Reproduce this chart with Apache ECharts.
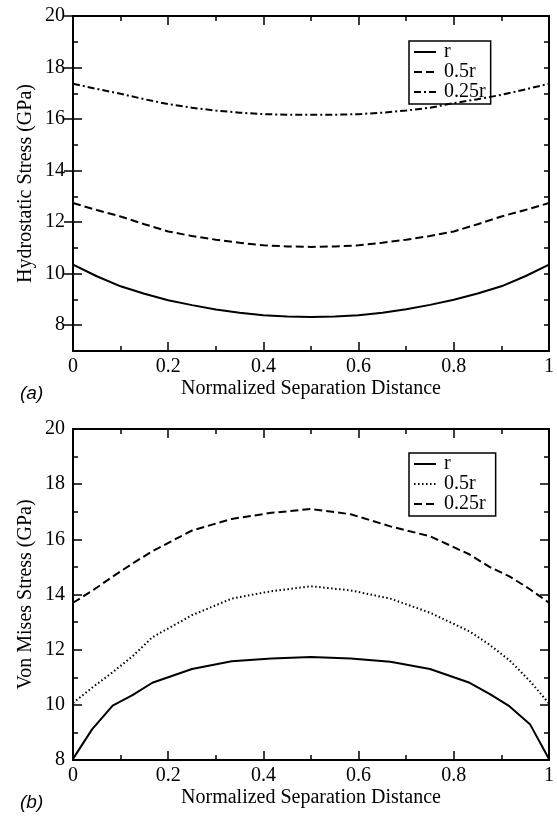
<!DOCTYPE html>
<html>
<head>
<meta charset="utf-8">
<script src="https://cdn.jsdelivr.net/npm/echarts@6/dist/echarts.min.js"></script>
<style>
html,body{margin:0;padding:0;background:#fff;}
#chart{width:557px;height:818px;}
</style>
</head>
<body>
<div id="chart"></div>
<script>
// ---- Data ----
// (a) Hydrostatic stress
const xTop = [0,0.05,0.1,0.15,0.2,0.25,0.3,0.35,0.4,0.45,0.5,0.55,0.6,0.65,0.7,0.75,0.8,0.85,0.9,0.95,1];
const hydroR       = [10.35,9.90,9.51,9.22,8.97,8.78,8.61,8.48,8.39,8.34,8.32,8.34,8.39,8.48,8.62,8.79,8.99,9.23,9.51,9.90,10.35];
const hydroHalf    = [12.74,12.47,12.22,11.92,11.64,11.46,11.32,11.20,11.10,11.06,11.04,11.06,11.10,11.20,11.32,11.46,11.64,11.92,12.22,12.47,12.74];
const hydroQuarter = [17.37,17.17,16.98,16.77,16.58,16.44,16.33,16.25,16.19,16.17,16.17,16.17,16.19,16.25,16.33,16.44,16.62,16.77,16.94,17.15,17.37];
// (b) Von Mises stress
const xBot = [0,0.04,0.0833,0.125,0.1667,0.25,0.3333,0.4167,0.5,0.5833,0.6667,0.75,0.8333,0.875,0.9167,0.96,1];
const vmR       = [8.04,9.11,9.97,10.35,10.80,11.30,11.58,11.68,11.73,11.68,11.56,11.30,10.80,10.40,9.95,9.30,8.04];
const vmHalf    = [10.07,10.62,11.18,11.76,12.45,13.25,13.85,14.12,14.30,14.15,13.85,13.34,12.66,12.18,11.62,10.86,10.05];
const vmQuarter = [13.70,14.13,14.65,15.12,15.57,16.32,16.74,16.96,17.10,16.91,16.47,16.11,15.45,15.00,14.66,14.19,13.70];

const topLabels = ['r','0.5r','0.25r'];
const botLabels = ['r','0.5r','0.25r'];
const topYMajor = [8,10,12,14,16,18,20];

const topDash = ['solid', [8,4], [7,3,2,3]];
const botDash = ['solid', [1.5,2.5], [8,4]];

const pair = (xs, ys) => xs.map((x,i) => [x, ys[i]]);

const SERIF = 'Liberation Serif';
const black = '#000';
const FS = 20;

function xAx(grid, pos, labels){
  return {
    type:'value', gridIndex:grid, position:pos, min:0, max:1, interval:0.2,
    axisLine:{show:true, onZero:false, lineStyle:{color:black, width:2}},
    axisTick:{show:true, inside:true, length:9, lineStyle:{color:black, width:1.5}},
    minorTick:{show:true, splitNumber:2, length:5, lineStyle:{color:black, width:1.5}},
    splitLine:{show:false},
    axisLabel:{show:labels, color:black, fontFamily:SERIF, fontSize:FS, margin:6},
    name: labels ? 'Normalized Separation Distance' : '',
    nameLocation:'middle', nameGap:28,
    nameTextStyle:{color:black, fontFamily:SERIF, fontSize:FS}
  };
}
function yTopAx(pos, labels){
  return {
    type:'value', gridIndex:0, position:pos, min:7, max:20, interval:1,
    axisLine:{show:true, onZero:false, lineStyle:{color:black, width:2}},
    axisTick:{show:true, inside:true, length:5, lineStyle:{color:black, width:1.5}},
    splitLine:{show:false},
    axisLabel:{show:labels, color:black, fontFamily:SERIF, fontSize:FS, margin:8,
      formatter: v => (v % 2 === 0 ? String(v) : '')},
    name: labels ? 'Hydrostatic Stress (GPa)' : '',
    nameLocation:'middle', nameGap:37, nameMoveOverlap:false,
    nameTextStyle:{color:black, fontFamily:SERIF, fontSize:FS}
  };
}
function yTopMajor(pos){
  return {
    type:'value', gridIndex:0, position:pos, min:7, max:20,
    axisLine:{show:false},
    axisTick:{show:true, inside:true, length:9, customValues:topYMajor, lineStyle:{color:black, width:1.5}},
    axisLabel:{show:false}, splitLine:{show:false}
  };
}
function yBotAx(pos, labels){
  return {
    type:'value', gridIndex:1, position:pos, min:8, max:20, interval:2,
    axisLine:{show:true, onZero:false, lineStyle:{color:black, width:2}},
    axisTick:{show:true, inside:true, length:9, lineStyle:{color:black, width:1.5}},
    minorTick:{show:true, splitNumber:2, length:5, lineStyle:{color:black, width:1.5}},
    splitLine:{show:false},
    axisLabel:{show:labels, color:black, fontFamily:SERIF, fontSize:FS, margin:8},
    name: labels ? 'Von Mises Stress (GPa)' : '',
    nameLocation:'middle', nameGap:37, nameMoveOverlap:false,
    nameTextStyle:{color:black, fontFamily:SERIF, fontSize:FS}
  };
}
function line(name, xi, yi, data, type){
  return {
    type:'line', name:name, xAxisIndex:xi, yAxisIndex:yi, data:data,
    symbol:'none', smooth:false, animation:false,
    lineStyle:{color:black, width:2, type:type}, itemStyle:{color:black}
  };
}
function legend(top, names, dashes){
  return {
    orient:'vertical', left:409, top:top, selectedMode:false,
    data:names.map((n,i) => ({name:n, itemStyle:{opacity:0},
      lineStyle:{color:black, width:2, type:dashes[i]}})),
    itemWidth:22, itemHeight:10, itemGap:0,
    borderColor:black, borderWidth:1.5, borderRadius:0, padding:[1,5,2,4],
    textStyle:{color:black, fontFamily:SERIF, fontSize:FS, lineHeight:18, padding:[0,0,0,3]}
  };
}

const chart = echarts.init(document.getElementById('chart'), null, {renderer:'canvas'});
chart.setOption({
  animation:false,
  backgroundColor:'#fff',
  title:[
    {text:'(a)', left:15, top:379, textStyle:{fontFamily:'Liberation Sans', fontStyle:'italic', fontWeight:'normal', fontSize:19, color:black}},
    {text:'(b)', left:15, top:788, textStyle:{fontFamily:'Liberation Sans', fontStyle:'italic', fontWeight:'normal', fontSize:19, color:black}}
  ],
  grid:[
    {left:73, top:16, width:479, height:335},
    {left:73, top:429, width:479, height:331}
  ],
  xAxis:[ xAx(0,'bottom',true), xAx(0,'top',false), xAx(1,'bottom',true), xAx(1,'top',false) ],
  yAxis:[ yTopAx('left',true), yTopMajor('left'), yTopAx('right',false), yTopMajor('right'),
          yBotAx('left',true), yBotAx('right',false) ],
  legend:[ legend(41, topLabels, topDash), legend(453, botLabels.map(s => s + ' '), botDash) ],
  series:[
    line(topLabels[0], 0, 0, pair(xTop, hydroR), topDash[0]),
    line(topLabels[1], 0, 0, pair(xTop, hydroHalf), topDash[1]),
    line(topLabels[2], 0, 0, pair(xTop, hydroQuarter), topDash[2]),
    line(botLabels[0] + ' ', 2, 4, pair(xBot, vmR), botDash[0]),
    line(botLabels[1] + ' ', 2, 4, pair(xBot, vmHalf), botDash[1]),
    line(botLabels[2] + ' ', 2, 4, pair(xBot, vmQuarter), botDash[2])
  ]
});
</script>
</body>
</html>
